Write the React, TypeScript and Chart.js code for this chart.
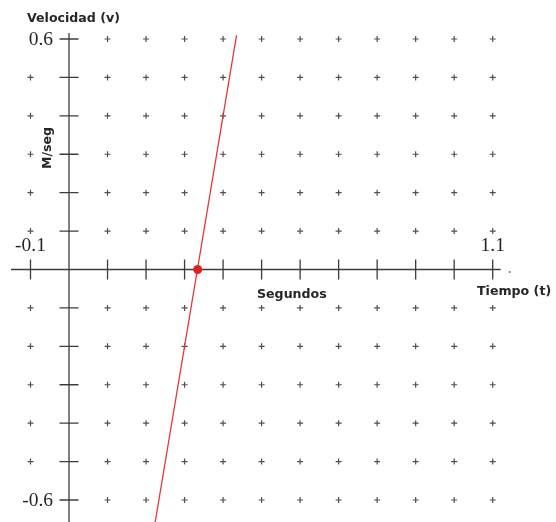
import React, { useEffect, useRef } from "react";
import { Chart, registerables } from "chart.js";

Chart.register(...registerables);

// Axis ranges and tick positions (time in s, velocity in m/s)
const xTicks = [-0.1, 0, 0.1, 0.2, 0.3, 0.4, 0.5, 0.6, 0.7, 0.8, 0.9, 1.0, 1.1];
const yTicks = [-0.6, -0.5, -0.4, -0.3, -0.2, -0.1, 0, 0.1, 0.2, 0.3, 0.4, 0.5, 0.6];

// Velocity line endpoints
const lineT = [0.2, 0.435];
const lineV = [-0.8, 0.61];

// Highlighted point where the velocity crosses zero
const markT = [0.334];
const markV = [0];

// Number labels printed beside the axes
const yEndLabels = ["0.6", "-0.6"];
const xEndLabels = ["-0.1", "1.1"];

const AXIS = "#3c3c3c";
const INK = "#262626";
const BOLD = "'DejaVu Sans', sans-serif";
const SERIF = "'Liberation Serif', 'Times New Roman', serif";

// "+" markers over the plane, leaving out the axes and the spots taken by labels
const gridPoints: { x: number; y: number }[] = [];
for (const t of xTicks) {
  for (const v of yTicks) {
    if (t === 0 || v === 0) continue;
    if (t === -0.1 && (v === 0.6 || v === -0.6)) continue;
    gridPoints.push({ x: t, y: v });
  }
}

const axesPlugin = {
  id: "crossAxes",
  beforeDatasetsDraw(chart: any) {
    const { ctx } = chart;
    const xs = chart.scales.x;
    const ys = chart.scales.y;
    const x0 = xs.getPixelForValue(0);
    const y0 = ys.getPixelForValue(0);
    const xl = xs.getPixelForValue(xTicks[0]);
    const xr = xs.getPixelForValue(xTicks[xTicks.length - 1]);
    const yt = ys.getPixelForValue(yTicks[yTicks.length - 1]);
    ctx.save();
    ctx.strokeStyle = AXIS;
    ctx.lineWidth = 1.3;
    ctx.beginPath();
    // horizontal axis
    ctx.moveTo(xl - 19.5, y0);
    ctx.lineTo(xr + 8, y0);
    // vertical axis
    ctx.moveTo(x0, yt - 6);
    ctx.lineTo(x0, chart.height);
    // ticks on the time axis
    for (const t of xTicks) {
      if (t === 0) continue;
      const px = xs.getPixelForValue(t);
      ctx.moveTo(px, y0 - 10);
      ctx.lineTo(px, y0 + 10);
    }
    // ticks on the velocity axis
    for (const v of yTicks) {
      if (v === 0) continue;
      const py = ys.getPixelForValue(v);
      ctx.moveTo(x0 - 9.5, py);
      ctx.lineTo(x0 + 9.5, py);
    }
    ctx.stroke();

    // small dot past the end of the time axis
    ctx.fillStyle = "#777";
    ctx.beginPath();
    ctx.arc(xr + 17, y0 + 2.5, 1.1, 0, Math.PI * 2);
    ctx.fill();

    // serif numbers
    ctx.fillStyle = INK;
    ctx.font = `19.5px ${SERIF}`;
    ctx.textBaseline = "middle";
    ctx.textAlign = "right";
    ctx.fillText(yEndLabels[0], x0 - 16, ys.getPixelForValue(0.6) + 1);
    ctx.fillText(yEndLabels[1], x0 - 16, ys.getPixelForValue(-0.6) + 1);
    ctx.textAlign = "center";
    ctx.fillText(xEndLabels[0], xs.getPixelForValue(-0.1), y0 - 24);
    ctx.fillText(xEndLabels[1], xs.getPixelForValue(1.1), y0 - 24);

    // bold captions
    ctx.font = `bold 12.6px ${BOLD}`;
    ctx.textAlign = "left";
    ctx.textBaseline = "alphabetic";
    ctx.fillText("Velocidad (v)", 27, 22);
    ctx.fillText("Segundos", 257, 298);
    ctx.fillText("Tiempo (t)", 477, 295);
    ctx.save();
    ctx.translate(51, 148);
    ctx.rotate(-Math.PI / 2);
    ctx.textAlign = "center";
    ctx.fillText("M/seg", 0, 0);
    ctx.restore();
    ctx.restore();
  },
};

export default function App() {
  const ref = useRef<HTMLCanvasElement | null>(null);

  useEffect(() => {
    if (!ref.current) return;
    const chart = new Chart(ref.current, {
      type: "scatter",
      data: {
        datasets: [
          {
            data: gridPoints,
            pointStyle: "cross",
            radius: 3,
            borderColor: "#505050",
            borderWidth: 1.2,
            backgroundColor: "#505050",
            clip: false,
            order: 3,
          },
          {
            data: lineT.map((t, i) => ({ x: t, y: lineV[i] })),
            showLine: true,
            borderColor: "#e03a3a",
            borderWidth: 1.3,
            pointRadius: 0,
            clip: false,
            order: 2,
          },
          {
            data: markT.map((t, i) => ({ x: t, y: markV[i] })),
            pointRadius: 4.5,
            backgroundColor: "#e01f1f",
            borderColor: "#e01f1f",
            borderWidth: 0,
            order: 1,
          },
        ],
      },
      options: {
        responsive: false,
        animation: false,
        devicePixelRatio: 1,
        layout: { padding: { left: 30.5, right: 63.3, top: 39, bottom: 22 } },
        scales: {
          x: { type: "linear", min: -0.1, max: 1.1, display: false },
          y: { type: "linear", min: -0.6, max: 0.6, display: false },
        },
        plugins: { legend: { display: false }, tooltip: { enabled: false } },
      },
      plugins: [axesPlugin],
    });
    return () => chart.destroy();
  }, []);

  return (
    <div style={{ position: "absolute", left: 0, top: 0, width: 556, height: 522, background: "#fff" }}>
      <canvas ref={ref} width={556} height={522} />
    </div>
  );
}
